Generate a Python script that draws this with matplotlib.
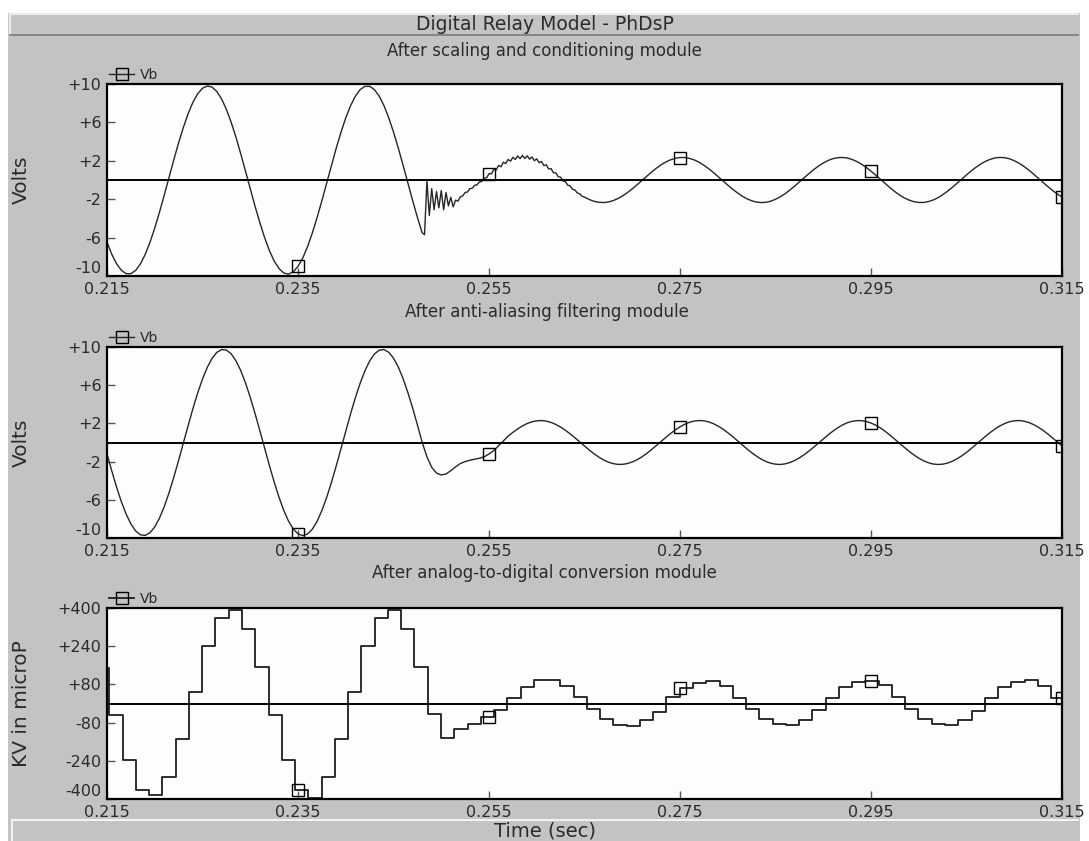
import numpy as np
import matplotlib
matplotlib.use("Agg")
import matplotlib.pyplot as plt
from matplotlib.patches import Rectangle
from matplotlib.lines import Line2D

# ---- data ----
series_name = "Vb"
x_ticks = [0.215, 0.235, 0.255, 0.275, 0.295, 0.315]
x_tick_labels = ["0.215", "0.235", "0.255", "0.275", "0.295", "0.315"]
volt_ticks = [-10, -6, -2, 2, 6, 10]
volt_tick_labels = ["-10", "-6", "-2", "+2", "+6", "+10"]
kv_ticks = [-400, -240, -80, 80, 240, 400]
kv_tick_labels = ["-400", "-240", "-80", "+80", "+240", "+400"]
marker_times = [0.235, 0.255, 0.275, 0.295, 0.315]

# panel 1: scaling/conditioning output (Volts)
t1_pre = np.linspace(0.215, 0.248, 67)
v1_pre = [-6.47, -7.74, -8.72, -9.41, -9.75, -9.76, -9.42, -8.74, -7.75, -6.49,
          -5.00, -3.34, -1.55, 0.29, 2.12, 3.88, 5.49, 6.92, 8.10, 8.99,
          9.56, 9.79, 9.68, 9.22, 8.44, 7.36, 6.02, 4.47, 2.75, 0.94,
          -0.91, -2.72, -4.43, -5.99, -7.34, -8.43, -9.21, -9.68, -9.80, -9.57,
          -9.00, -8.12, -6.94, -5.52, -3.91, -2.15, -0.33, 1.52, 3.30, 4.97,
          6.47, 7.73, 8.72, 9.41, 9.75, 9.76, 9.42, 8.74, 7.75, 6.49,
          5.00, 3.34, 1.55, -0.29, -2.12, -3.88, -5.49]
# fault transient with ringing, finer sampling
t1_ring = np.linspace(0.24825, 0.265, 68)
v1_ring = [-5.7, -0.1, -3.7, -0.9, -3.1, -1.2, -2.9, -1.1, -3.1, -1.3,
           -2.7, -1.8, -2.8, -2.1, -2.2, -1.75, -1.65, -1.3, -1.25, -0.9,
           -0.85, -0.55, -0.5, -0.2, -0.15,
           0.2, 0.22, 0.66, 0.64, 1.1, 1.04, 1.52, 1.38, 1.86, 1.71,
           2.14, 1.96, 2.36, 2.14, 2.5, 2.23, 2.55, 2.24, 2.52, 2.17,
           2.40, 2.01, 2.2, 1.8, 1.93, 1.5, 1.58, 1.15, 1.18, 0.76,
           0.74, 0.34, 0.3, -0.11, -0.17, -0.54, -0.62, -0.97, -1.05, -1.35,
           -1.44, -1.69, -1.79]
t1_post = np.linspace(0.2655, 0.315, 100)
v1_post = [-2.03, -2.22, -2.32, -2.35, -2.29, -2.15, -1.93, -1.65, -1.31, -0.92,
           -0.50, -0.06, 0.38, 0.81, 1.21, 1.57, 1.87, 2.10, 2.26, 2.34,
           2.34, 2.25, 2.09, 1.85, 1.54, 1.18, 0.78, 0.35, -0.09, -0.53,
           -0.95, -1.33, -1.67, -1.95, -2.16, -2.30, -2.35, -2.32, -2.21, -2.01,
           -1.75, -1.43, -1.05, -0.64, -0.20, 0.24, 0.67, 1.08, 1.45, 1.77,
           2.03, 2.22, 2.32, 2.35, 2.29, 2.15, 1.93, 1.65, 1.31, 0.92,
           0.50, 0.06, -0.38, -0.81, -1.21, -1.57, -1.87, -2.10, -2.26, -2.34,
           -2.34, -2.25, -2.09, -1.85, -1.54, -1.18, -0.78, -0.35, 0.09, 0.53,
           0.95, 1.33, 1.67, 1.95, 2.16, 2.30, 2.35, 2.32, 2.21, 2.01,
           1.75, 1.43, 1.05, 0.64, 0.20, -0.24, -0.67, -1.08, -1.45, -1.77]

# panel 2: anti-aliasing filter output (Volts), every 0.5 ms
t2 = np.linspace(0.215, 0.315, 201)
v2_pre = [-1.19, -2.98, -4.67, -6.19, -7.49, -8.53, -9.26, -9.67, -9.73, -9.45,
          -8.84, -7.91, -6.70, -5.25, -3.62, -1.86, -0.03, 1.79, 3.56, 5.20,
          6.65, 7.87, 8.81, 9.44, 9.73, 9.68, 9.29, 8.56, 7.54, 6.24,
          4.73, 3.04, 1.26, -0.58, -2.39, -4.12, -5.70, -7.09, -8.22, -9.05,
          -9.57, -9.75, -9.58, -9.08, -8.25, -7.13, -5.76, -4.18, -2.46, -0.65,
          1.19, 2.98, 4.67, 6.19, 7.49, 8.53, 9.26, 9.67, 9.73, 9.45,
          8.84, 7.91, 6.70, 5.25, 3.62, 1.86, 0.03]
v2_fault = [-1.5, -2.6, -3.2, -3.4, -3.3, -2.95, -2.55, -2.2, -2.0, -1.85,
            -1.75, -1.65, -1.5, -1.2, -0.85, -0.35, 0.15]
v2_post = [0.66, 1.06, 1.42, 1.74, 1.99, 2.17, 2.27, 2.30, 2.24, 2.10,
           1.89, 1.61, 1.28, 0.90, 0.49, 0.06, -0.37, -0.79, -1.18, -1.53,
           -1.83, -2.06, -2.21, -2.29, -2.29, -2.20, -2.04, -1.81, -1.51, -1.16,
           -0.76, -0.34, 0.09, 0.52, 0.93, 1.31, 1.64, 1.91, 2.12, 2.25,
           2.30, 2.27, 2.16, 1.97, 1.71, 1.40, 1.03, 0.63, 0.20, -0.23,
           -0.66, -1.06, -1.42, -1.74, -1.99, -2.17, -2.27, -2.30, -2.24, -2.10,
           -1.89, -1.61, -1.28, -0.90, -0.49, -0.06, 0.37, 0.79, 1.18, 1.53,
           1.83, 2.06, 2.21, 2.29, 2.29, 2.20, 2.04, 1.81, 1.51, 1.16,
           0.76, 0.34, -0.09, -0.52, -0.93, -1.31, -1.64, -1.91, -2.12, -2.25,
           -2.30, -2.27, -2.16, -1.97, -1.71, -1.40, -1.03, -0.63, -0.20, 0.23,
           0.66, 1.06, 1.42, 1.74, 1.99, 2.17, 2.27, 2.30, 2.24, 2.10,
           1.89, 1.61, 1.28, 0.90, 0.49, 0.06, -0.37]

# panel 3: A/D output, held samples at 720 Hz (KV in microP)
adc_first_edge = 0.21525
adc_rate = 720.0
adc_initial = 150
adc_levels = [-49, -235, -363, -385, -307, -150, 49, 240, 360, 391,
              310, 151, -49, -235, -363, -394, -307, -150, 49, 240,
              360, 391, 310, 151, -42, -144, -105, -84, -56, -28,
              21, 70, 98, 98, 73, 28, -24, -67, -88, -94,
              -70, -35, 28, 63, 87, 95, 73, 25, -24, -67,
              -87, -91, -70, -28, 21, 70, 91, 95, 77, 28,
              -24, -67, -87, -91, -70, -31, 25, 70, 91, 100,
              73, 25]

# ---- figure ----
W, H = 1089, 841
BG = "#c3c3c3"
TXT = "#2b2b2b"
fig = plt.figure(figsize=(W / 100, H / 100), dpi=100, facecolor="white")


def fx(x):
    return x / W


def fy(y):
    return 1 - y / H


def panel_rect(x0, y0, x1, y1, **kw):
    fig.add_artist(Rectangle((fx(x0), fy(y1)), fx(x1) - fx(x0), fy(y0) - fy(y1),
                             transform=fig.transFigure, **kw))


# window chrome
panel_rect(8, 13, 1080, 841, facecolor=BG, edgecolor="none", zorder=0)
fig.add_artist(Line2D([fx(10), fx(1078)], [fy(14), fy(14)], color="#ececec", lw=1.5, transform=fig.transFigure))
fig.add_artist(Line2D([fx(10), fx(10)], [fy(14), fy(35)], color="#ececec", lw=1.5, transform=fig.transFigure))
fig.add_artist(Line2D([fx(10), fx(1078)], [fy(35), fy(35)], color="#7a7a7a", lw=1.2, transform=fig.transFigure))
fig.add_artist(Line2D([fx(12), fx(1078)], [fy(820), fy(820)], color="#f2f2f2", lw=1.5, transform=fig.transFigure))
fig.add_artist(Line2D([fx(12), fx(12)], [fy(820), fy(841)], color="#f2f2f2", lw=1.5, transform=fig.transFigure))

fig.text(0.5, fy(25), "Digital Relay Model - PhDsP", ha="center", va="center", fontsize=13.5, color=TXT)
fig.text(0.5, fy(51), "After scaling and conditioning module", ha="center", va="center", fontsize=12, color=TXT)
fig.text(0.502, fy(312), "After anti-aliasing filtering module", ha="center", va="center", fontsize=12, color=TXT)
fig.text(0.5, fy(573), "After analog-to-digital conversion module", ha="center", va="center", fontsize=12, color=TXT)
fig.text(0.5, fy(831), "Time (sec)", ha="center", va="center", fontsize=14, color=TXT)

left, width = fx(107), fx(1062) - fx(107)
ax1 = fig.add_axes([left, fy(276), width, fy(84) - fy(276)])
ax2 = fig.add_axes([left, fy(538), width, fy(347) - fy(538)])
ax3 = fig.add_axes([left, fy(799), width, fy(608) - fy(799)])

LINE = "#262626"
mk = dict(marker="s", markersize=8, markerfacecolor="none", markeredgecolor="black", markeredgewidth=1.0)


def style(ax, yticks, ylabels, ylim, ylabel):
    ax.set_facecolor("#fdfdfd")
    ax.set_xlim(0.215, 0.315)
    ax.set_ylim(*ylim)
    ax.set_xticks(x_ticks)
    ax.set_xticklabels(x_tick_labels)
    ax.set_yticks(yticks)
    ax.set_yticklabels(ylabels)
    ax.tick_params(direction="in", length=6, width=1, color="#555555",
                   labelsize=11.5, labelcolor=TXT, pad=4)
    # lowest y label sits just above the x labels instead of on top of them
    ax.get_yticklabels()[0].set_va("bottom")
    for s in ax.spines.values():
        s.set_linewidth(1.6)
        s.set_color("black")
    ax.axhline(0, color="black", lw=1.4, zorder=2)
    ax.set_ylabel(ylabel, fontsize=14.5, color=TXT)
    ax.yaxis.set_label_coords(-0.08, 0.5)
    ax.legend(loc="lower left", bbox_to_anchor=(0, 1), frameon=False, fontsize=10,
              handlelength=1.8, handletextpad=0.4, borderpad=0, borderaxespad=0.15,
              numpoints=1, labelcolor=TXT)


def marker_idx(t):
    return [int(np.argmin(np.abs(t - m))) for m in marker_times]


# panel 1
t1 = np.concatenate([t1_pre, t1_ring, t1_post])
v1 = np.concatenate([v1_pre, v1_ring, v1_post])
ax1.plot(t1, v1, color=LINE, lw=1.0, markevery=marker_idx(t1), label=series_name, **mk)
style(ax1, volt_ticks, volt_tick_labels, (-10, 10), "Volts")

# panel 2
v2 = np.concatenate([v2_pre, v2_fault, v2_post])
ax2.plot(t2, v2, color=LINE, lw=1.0, markevery=marker_idx(t2), label=series_name, **mk)
style(ax2, volt_ticks, volt_tick_labels, (-10, 10), "Volts")

# panel 3
t3 = np.concatenate([[0.215], adc_first_edge + np.arange(len(adc_levels)) / adc_rate, [0.315]])
v3 = np.concatenate([[adc_initial], adc_levels, [adc_levels[-1]]])
ax3.step(t3, v3, where="post", color="#1e1e1e", lw=1.3)
pos = np.searchsorted(t3, marker_times, side="right") - 1
pos = np.minimum(pos, len(v3) - 1)
ax3.plot(marker_times, v3[pos], linestyle="none", **mk)
ax3.plot([], [], color="#1e1e1e", lw=1.3, label=series_name, **mk)
style(ax3, kv_ticks, kv_tick_labels, (-400, 400), "KV in microP")

fig.savefig("out.png", dpi=100, facecolor=fig.get_facecolor())
